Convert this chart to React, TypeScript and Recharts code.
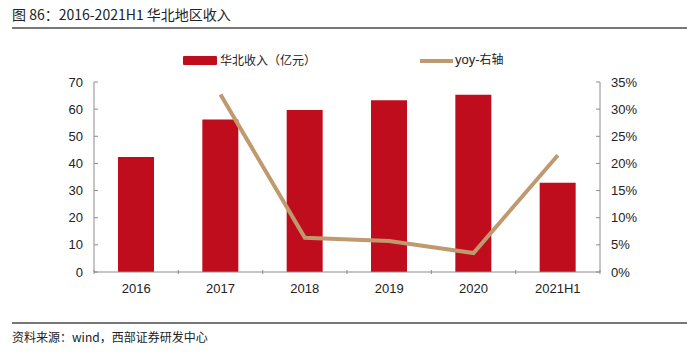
import { ComposedChart, Bar, Line, XAxis, YAxis } from "recharts";

const categories = ["2016", "2017", "2018", "2019", "2020", "2021H1"];
const revenue = [42.4, 56.2, 59.7, 63.3, 65.3, 32.9];
const yoy = [null, 32.7, 6.3, 5.7, 3.5, 21.5];
const leftTicks = [0, 10, 20, 30, 40, 50, 60, 70];
const rightTicks = [0, 5, 10, 15, 20, 25, 30, 35];

const data = categories.map((name, i) => ({
  name,
  revenue: revenue[i],
  yoy: yoy[i],
}));

const W = 687;
const M = { top: 82, right: 37, bottom: 8, left: 50 };
const LEFT_W = 44;
const RIGHT_W = 50;
const band = (W - M.left - M.right - LEFT_W - RIGHT_W) / categories.length;

const RED = "#C00D1E";
const TAN = "#BE9A6E";
const AXIS = "#8c8c8c";
const font = "'Liberation Sans', Arial, sans-serif";
const cjk = "'Noto Sans CJK SC', sans-serif";

function XTick(props: any) {
  const { x, y, payload, index } = props;
  const last = index === categories.length - 1;
  const ay = y - 8;
  return (
    <g>
      <line x1={x - band / 2} x2={x - band / 2} y1={ay - 2} y2={ay + 2} stroke={AXIS} />
      {last && <line x1={x + band / 2} x2={x + band / 2} y1={ay - 2} y2={ay + 2} stroke={AXIS} />}
      <text x={x} y={ay + 21} textAnchor="middle" fontSize={13} fill="#222" fontFamily={font}>
        {payload.value}
      </text>
    </g>
  );
}

function LegendBox() {
  return (
    <div style={{ position: "absolute", left: 0, top: 50, width: W, height: 20, fontFamily: cjk, fontSize: 12, color: "#222" }}>
      <div style={{ position: "absolute", left: 183, top: 6, width: 34, height: 9, background: RED, borderRadius: 1 }} />
      <span style={{ position: "absolute", left: 220, top: 1 }}>华北收入（亿元）</span>
      <div style={{ position: "absolute", left: 420, top: 9, width: 33, height: 4, background: TAN }} />
      <span style={{ position: "absolute", left: 455, top: 0, fontFamily: font, fontSize: 13 }}>
        yoy-<span style={{ fontFamily: cjk, fontSize: 12 }}>右轴</span>
      </span>
    </div>
  );
}

export default function App() {
  return (
    <div style={{ position: "absolute", left: 0, top: 0, width: W, height: 353, background: "#fff" }}>
      <div style={{ position: "absolute", left: 12, top: 4, fontFamily: cjk, fontSize: 14, color: "#222" }}>
        图 86：2016-2021H1 华北地区收入
      </div>
      <div style={{ position: "absolute", left: 12, right: 0, top: 27, borderTop: "2px solid #777" }} />
      <div style={{ position: "absolute", left: 0, top: 0 }}>
        <ComposedChart width={W} height={310} data={data} margin={M}>
          <XAxis
            dataKey="name"
            axisLine={{ stroke: AXIS }}
            tickLine={false}
            tick={<XTick />}
            height={30}
            interval={0}
          />
          <YAxis
            yAxisId="l"
            domain={[0, 70]}
            ticks={leftTicks}
            width={LEFT_W}
            axisLine={{ stroke: AXIS }}
            tickLine={{ stroke: AXIS }}
            tickSize={-4}
            tickMargin={15}
            tick={{ fontSize: 13, fill: "#222", fontFamily: font }}
          />
          <YAxis
            yAxisId="r"
            orientation="right"
            domain={[0, 35]}
            ticks={rightTicks}
            width={RIGHT_W}
            axisLine={{ stroke: AXIS }}
            tickLine={{ stroke: AXIS }}
            tickSize={-4}
            tickMargin={15}
            tickFormatter={(v: number) => `${v}%`}
            tick={{ fontSize: 13, fill: "#222", fontFamily: font }}
          />
          <Bar yAxisId="l" dataKey="revenue" fill={RED} barSize={36} isAnimationActive={false} />
          <Line
            yAxisId="r"
            dataKey="yoy"
            stroke={TAN}
            strokeWidth={4}
            dot={false}
            activeDot={false}
            connectNulls={false}
            isAnimationActive={false}
          />
        </ComposedChart>
      </div>
      <LegendBox />
      <div style={{ position: "absolute", left: 12, right: 0, top: 322, borderTop: "2px solid #777" }} />
      <div style={{ position: "absolute", left: 12, top: 328, fontFamily: cjk, fontSize: 12, color: "#222" }}>
        资料来源：wind，西部证券研发中心
      </div>
    </div>
  );
}
